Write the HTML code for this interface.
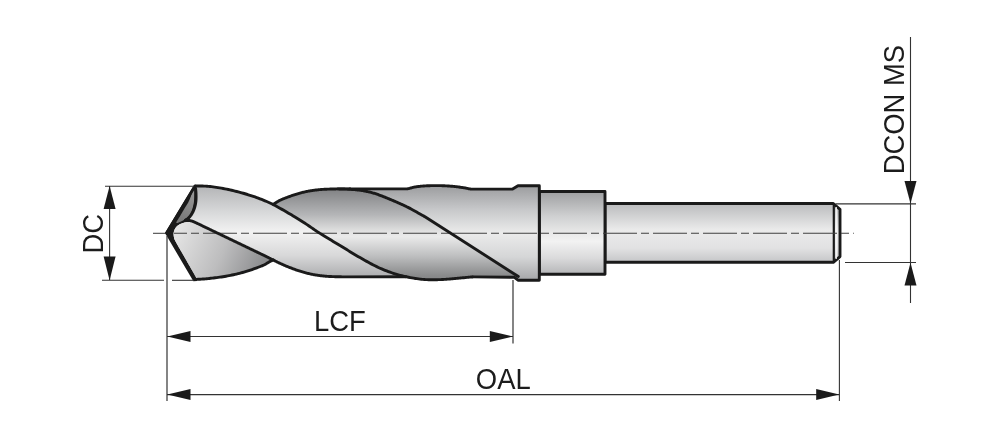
<!DOCTYPE html>
<html><head><meta charset="utf-8">
<style>
html,body{margin:0;padding:0;background:#fff;}
body{width:1000px;height:438px;overflow:hidden;}
svg{display:block;will-change:transform;}
text{font-family:"Liberation Sans",sans-serif;fill:#1c1c1c;}
</style></head>
<body>
<svg width="1000" height="438" viewBox="0 0 1000 438">
<defs>
<clipPath id="cs"><path d="M166.60,232.90 L195.00,186.00 L195.71,186.01 L196.57,186.02 L197.58,186.02 L198.70,186.02 L199.93,186.03 L201.25,186.04 L202.64,186.06 L204.07,186.10 L205.55,186.16 L207.04,186.24 L208.53,186.36 L210.00,186.50 L211.49,186.68 L213.04,186.88 L214.65,187.10 L216.30,187.34 L217.98,187.61 L219.69,187.89 L221.41,188.19 L223.15,188.51 L224.88,188.84 L226.61,189.18 L228.32,189.54 L230.00,189.90 L231.67,190.27 L233.33,190.66 L235.00,191.06 L236.67,191.47 L238.33,191.89 L240.00,192.33 L241.67,192.79 L243.33,193.26 L245.00,193.74 L246.67,194.24 L248.33,194.76 L250.00,195.30 L251.67,195.85 L253.33,196.41 L255.00,196.99 L256.67,197.57 L258.33,198.18 L260.00,198.80 L261.67,199.44 L263.33,200.10 L265.00,200.79 L266.67,201.50 L268.33,202.24 L270.00,203.00 L271.68,203.81 L273.39,204.66 L273.40,204.30 L273.71,204.11 L274.08,203.86 L274.51,203.58 L274.99,203.26 L275.51,202.92 L276.08,202.55 L276.67,202.17 L277.30,201.78 L277.96,201.39 L278.63,201.01 L279.31,200.65 L280.00,200.30 L280.71,199.96 L281.47,199.62 L282.26,199.28 L283.08,198.94 L283.93,198.59 L284.79,198.25 L285.66,197.91 L286.54,197.57 L287.42,197.24 L288.29,196.92 L289.16,196.61 L290.00,196.30 L290.83,196.00 L291.67,195.71 L292.50,195.42 L293.33,195.14 L294.17,194.86 L295.00,194.59 L295.83,194.32 L296.67,194.06 L297.50,193.81 L298.33,193.57 L299.17,193.33 L300.00,193.10 L300.83,192.88 L301.67,192.67 L302.50,192.46 L303.33,192.26 L304.17,192.07 L305.00,191.88 L305.83,191.70 L306.67,191.53 L307.50,191.36 L308.33,191.20 L309.17,191.05 L310.00,190.90 L310.83,190.76 L311.67,190.62 L312.50,190.49 L313.33,190.37 L314.17,190.26 L315.00,190.15 L315.83,190.04 L316.67,189.94 L317.50,189.85 L318.33,189.76 L319.17,189.68 L320.00,189.60 L320.83,189.53 L321.67,189.46 L322.50,189.40 L323.33,189.35 L324.17,189.30 L325.00,189.25 L325.83,189.21 L326.67,189.18 L327.50,189.14 L328.33,189.11 L329.17,189.08 L330.00,189.05 L330.83,189.02 L331.67,189.00 L332.50,188.98 L333.33,188.96 L334.17,188.95 L335.00,188.94 L335.83,188.93 L336.67,188.92 L337.50,188.92 L338.33,188.91 L339.17,188.91 L340.00,188.90 L340.87,188.89 L341.78,188.89 L342.73,188.89 L343.70,188.89 L344.67,188.89 L345.62,188.89 L346.54,188.89 L347.41,188.89 L348.20,188.90 L348.91,188.90 L349.52,188.90 L350.00,188.90 L407.00,188.90 L407.63,188.81 L408.25,188.68 L408.88,188.54 L409.52,188.38 L410.16,188.20 L410.81,188.02 L411.47,187.83 L412.15,187.64 L412.84,187.46 L413.54,187.29 L414.26,187.14 L415.00,187.00 L415.76,186.88 L416.53,186.76 L417.31,186.65 L418.11,186.54 L418.92,186.44 L419.75,186.35 L420.59,186.26 L421.44,186.18 L422.31,186.10 L423.19,186.03 L424.09,185.96 L425.00,185.90 L425.93,185.84 L426.87,185.79 L427.84,185.75 L428.81,185.71 L429.81,185.68 L430.81,185.65 L431.83,185.63 L432.85,185.61 L433.88,185.60 L434.92,185.59 L435.96,185.59 L437.00,185.60 L438.05,185.61 L439.11,185.63 L440.18,185.65 L441.26,185.67 L442.35,185.70 L443.44,185.74 L444.53,185.78 L445.63,185.83 L446.73,185.89 L447.82,185.95 L448.91,186.02 L450.00,186.10 L451.10,186.19 L452.22,186.29 L453.36,186.40 L454.50,186.53 L455.65,186.65 L456.79,186.79 L457.91,186.92 L459.01,187.06 L460.07,187.20 L461.10,187.34 L462.08,187.47 L463.00,187.60 L463.86,187.73 L464.66,187.87 L465.42,188.01 L466.13,188.16 L466.82,188.30 L467.48,188.44 L468.12,188.58 L468.76,188.71 L469.39,188.83 L470.04,188.94 L470.71,189.03 L471.40,189.10 L512.60,189.10 L518.00,185.70 L539.30,185.70 L539.30,280.20 L518.00,280.20 L514.50,277.30 L473.00,276.90 L472.39,276.93 L471.81,276.97 L471.23,277.01 L470.67,277.06 L470.09,277.11 L469.50,277.16 L468.88,277.22 L468.22,277.29 L467.52,277.36 L466.75,277.43 L465.91,277.51 L465.00,277.60 L463.99,277.69 L462.89,277.80 L461.72,277.92 L460.48,278.04 L459.20,278.17 L457.88,278.30 L456.53,278.43 L455.19,278.56 L453.84,278.68 L452.52,278.80 L451.24,278.91 L450.00,279.00 L448.80,279.09 L447.63,279.17 L446.48,279.25 L445.33,279.33 L444.20,279.41 L443.06,279.48 L441.92,279.54 L440.78,279.59 L439.62,279.63 L438.44,279.67 L437.23,279.69 L436.00,279.70 L434.75,279.71 L433.50,279.71 L432.23,279.72 L430.96,279.71 L429.68,279.70 L428.38,279.68 L427.05,279.64 L425.70,279.59 L424.33,279.51 L422.92,279.40 L421.48,279.27 L420.00,279.10 L418.47,278.91 L416.90,278.69 L415.28,278.45 L413.63,278.19 L411.95,277.91 L410.25,277.61 L408.54,277.28 L406.81,276.93 L405.09,276.56 L400.00,276.80 L345.00,276.90 L344.26,276.88 L343.31,276.86 L342.19,276.84 L340.93,276.81 L339.56,276.79 L338.12,276.76 L336.66,276.72 L335.19,276.69 L333.75,276.64 L332.38,276.60 L331.12,276.55 L330.00,276.50 L328.99,276.45 L328.04,276.39 L327.15,276.33 L326.30,276.27 L325.48,276.20 L324.69,276.13 L323.91,276.06 L323.15,275.98 L322.38,275.89 L321.61,275.80 L320.82,275.70 L320.00,275.60 L319.17,275.49 L318.33,275.37 L317.50,275.25 L316.67,275.13 L315.83,275.00 L315.00,274.86 L314.17,274.72 L313.33,274.57 L312.50,274.41 L311.67,274.25 L310.83,274.08 L310.00,273.90 L309.17,273.71 L308.33,273.52 L307.50,273.32 L306.67,273.11 L305.83,272.89 L305.00,272.67 L304.17,272.44 L303.33,272.20 L302.50,271.96 L301.67,271.71 L300.83,271.46 L300.00,271.20 L299.16,270.93 L298.32,270.65 L297.48,270.37 L296.63,270.07 L295.78,269.77 L294.94,269.47 L294.10,269.16 L293.26,268.85 L292.43,268.54 L291.61,268.22 L290.80,267.91 L290.00,267.60 L289.21,267.29 L288.43,266.98 L287.66,266.67 L286.89,266.35 L286.13,266.04 L285.38,265.72 L284.63,265.40 L283.89,265.08 L283.16,264.76 L282.43,264.44 L281.71,264.12 L281.00,263.80 L280.30,263.48 L279.61,263.16 L278.93,262.83 L278.26,262.51 L277.60,262.19 L276.94,261.86 L276.28,261.54 L275.63,261.21 L274.98,260.88 L274.32,260.56 L273.66,260.23 L273.30,259.99 L273.07,260.10 L272.80,260.21 L272.49,260.35 L272.16,260.50 L271.80,260.66 L271.41,260.83 L271.01,261.02 L270.58,261.22 L270.13,261.43 L269.67,261.66 L269.20,261.90 L268.74,262.15 L268.29,262.41 L267.86,262.69 L267.41,262.97 L266.95,263.27 L266.46,263.58 L265.91,263.91 L265.31,264.25 L264.63,264.61 L263.86,264.99 L262.99,265.38 L262.00,265.80 L260.88,266.25 L259.62,266.74 L258.26,267.26 L256.80,267.80 L255.27,268.37 L253.68,268.94 L252.05,269.51 L250.40,270.07 L248.75,270.62 L247.13,271.15 L245.53,271.64 L244.00,272.10 L242.50,272.52 L241.00,272.93 L239.50,273.32 L238.00,273.69 L236.50,274.05 L235.00,274.39 L233.50,274.72 L232.00,275.04 L230.50,275.35 L229.00,275.64 L227.50,275.92 L226.00,276.20 L224.49,276.46 L222.95,276.72 L221.39,276.95 L219.83,277.18 L218.27,277.40 L216.71,277.60 L215.17,277.79 L213.66,277.97 L212.18,278.15 L210.73,278.31 L209.34,278.46 L208.00,278.60 L206.68,278.73 L205.35,278.85 L204.01,278.95 L202.70,279.04 L201.41,279.13 L200.18,279.20 L199.00,279.26 L197.90,279.32 L196.90,279.37 L196.00,279.42 L195.23,279.46 L194.60,279.50 L194.60,279.60 Z"/></clipPath>
<linearGradient id="gR5" gradientUnits="userSpaceOnUse" x1="0" y1="185" x2="0" y2="281">
<stop offset="0" stop-color="#9a9b9d"/>
<stop offset="0.25" stop-color="#c6c7c9"/>
<stop offset="0.5" stop-color="#ebebeb"/>
<stop offset="0.75" stop-color="#d5d6d7"/>
<stop offset="1" stop-color="#a4a5a7"/>
</linearGradient>
<linearGradient id="gR4" gradientUnits="userSpaceOnUse" x1="0" y1="187" x2="0" y2="279">
<stop offset="0" stop-color="#7d7e80"/>
<stop offset="0.3" stop-color="#b4b5b7"/>
<stop offset="0.5" stop-color="#e5e5e5"/>
<stop offset="0.54" stop-color="#eaeaea"/>
<stop offset="0.75" stop-color="#bebfc0"/>
<stop offset="0.86" stop-color="#a2a3a4"/>
<stop offset="0.96" stop-color="#8a8b8c"/>
<stop offset="1" stop-color="#858687"/>
</linearGradient>
<linearGradient id="gR2" gradientUnits="userSpaceOnUse" x1="0" y1="185" x2="0" y2="279">
<stop offset="0" stop-color="#b2b3b5"/>
<stop offset="0.3" stop-color="#d9dadb"/>
<stop offset="0.5" stop-color="#f2f2f2"/>
<stop offset="0.75" stop-color="#d8d8d9"/>
<stop offset="1" stop-color="#a8a9ab"/>
</linearGradient>
<linearGradient id="gR3" gradientUnits="userSpaceOnUse" x1="180" y1="229" x2="268" y2="270">
<stop offset="0" stop-color="#e2e2e2"/>
<stop offset="0.5" stop-color="#bdbdbe"/>
<stop offset="1" stop-color="#858688"/>
</linearGradient>
<linearGradient id="gR1" gradientUnits="userSpaceOnUse" x1="178" y1="222" x2="195" y2="188">
<stop offset="0" stop-color="#767676"/>
<stop offset="1" stop-color="#9c9c9c"/>
</linearGradient>
<linearGradient id="gNeck" gradientUnits="userSpaceOnUse" x1="0" y1="191" x2="0" y2="275">
<stop offset="0" stop-color="#9d9ea0"/>
<stop offset="0.3" stop-color="#cfd0d1"/>
<stop offset="0.5" stop-color="#e9e9e9"/>
<stop offset="0.6" stop-color="#f2f2f2"/>
<stop offset="0.8" stop-color="#dadadb"/>
<stop offset="1" stop-color="#b3b4b6"/>
</linearGradient>
<linearGradient id="gShank" gradientUnits="userSpaceOnUse" x1="0" y1="203" x2="0" y2="263">
<stop offset="0" stop-color="#b9babc"/>
<stop offset="0.45" stop-color="#ebebeb"/>
<stop offset="0.75" stop-color="#e2e2e3"/>
<stop offset="1" stop-color="#c3c4c6"/>
</linearGradient>
</defs>

<!-- shank -->
<path d="M605,203.5 L833.3,203.5 L840,209.3 L840,256.6 L833.3,262.3 L605,262.3 Z" fill="url(#gShank)" stroke="#1a1a1a" stroke-width="2.9" stroke-linejoin="round"/>
<line x1="833.8" y1="204" x2="833.8" y2="262" stroke="#1a1a1a" stroke-width="2.2"/>
<line x1="836.3" y1="207" x2="836.3" y2="259" stroke="#fafafa" stroke-width="1"/>
<!-- neck -->
<rect x="539.3" y="191.5" width="65.7" height="82.8" fill="url(#gNeck)" stroke="#1a1a1a" stroke-width="2.9" stroke-linejoin="round"/>

<!-- body -->
<g clip-path="url(#cs)">
<rect x="150" y="180" width="400" height="110" fill="url(#gR5)"/>
<path d="M338.00,188.90 L338.58,188.92 L339.32,188.94 L340.18,188.96 L341.15,188.98 L342.20,189.00 L343.31,189.03 L344.46,189.06 L345.63,189.10 L346.79,189.14 L347.92,189.19 L349.00,189.24 L350.00,189.30 L350.95,189.36 L351.90,189.43 L352.84,189.50 L353.78,189.58 L354.70,189.66 L355.62,189.75 L356.54,189.84 L357.44,189.94 L358.34,190.05 L359.24,190.16 L360.12,190.27 L361.00,190.40 L361.87,190.53 L362.74,190.67 L363.59,190.82 L364.44,190.97 L365.29,191.12 L366.12,191.29 L366.95,191.46 L367.78,191.63 L368.59,191.82 L369.40,192.00 L370.20,192.20 L371.00,192.40 L371.78,192.61 L372.55,192.82 L373.30,193.04 L374.04,193.26 L374.77,193.49 L375.50,193.72 L376.23,193.97 L376.96,194.22 L377.70,194.48 L378.45,194.74 L379.22,195.02 L380.00,195.30 L380.80,195.59 L381.61,195.90 L382.43,196.22 L383.26,196.54 L384.10,196.87 L384.94,197.21 L385.78,197.56 L386.63,197.90 L387.48,198.25 L388.32,198.60 L389.16,198.95 L390.00,199.30 L390.83,199.65 L391.67,199.99 L392.50,200.34 L393.33,200.69 L394.17,201.05 L395.00,201.40 L395.83,201.76 L396.67,202.12 L397.50,202.48 L398.33,202.85 L399.17,203.22 L400.00,203.60 L400.82,203.97 L401.61,204.33 L402.38,204.68 L403.15,205.03 L403.91,205.38 L404.69,205.74 L405.48,206.12 L406.30,206.51 L407.15,206.94 L408.04,207.39 L408.99,207.87 L410.00,208.40 L411.12,209.00 L412.38,209.69 L413.75,210.44 L415.19,211.24 L416.66,212.07 L418.12,212.90 L419.56,213.71 L420.93,214.49 L422.19,215.21 L423.31,215.84 L424.26,216.38 L425.00,216.80 L518.30,276.50 L520.00,300.00 L100.00,300.00 L100.00,150.00 L343.00,150.00 Z" fill="url(#gR4)"/>
<path d="M195.00,186.00 L195.71,186.01 L196.57,186.02 L197.58,186.02 L198.70,186.02 L199.93,186.03 L201.25,186.04 L202.64,186.06 L204.07,186.10 L205.55,186.16 L207.04,186.24 L208.53,186.36 L210.00,186.50 L211.49,186.68 L213.04,186.88 L214.65,187.10 L216.30,187.34 L217.98,187.61 L219.69,187.89 L221.41,188.19 L223.15,188.51 L224.88,188.84 L226.61,189.18 L228.32,189.54 L230.00,189.90 L231.67,190.27 L233.33,190.66 L235.00,191.06 L236.67,191.47 L238.33,191.89 L240.00,192.33 L241.67,192.79 L243.33,193.26 L245.00,193.74 L246.67,194.24 L248.33,194.76 L250.00,195.30 L251.67,195.85 L253.33,196.41 L255.00,196.99 L256.67,197.57 L258.33,198.18 L260.00,198.80 L261.67,199.44 L263.33,200.10 L265.00,200.79 L266.67,201.50 L268.33,202.24 L270.00,203.00 L271.68,203.81 L273.39,204.66 L275.12,205.56 L276.85,206.49 L278.59,207.44 L280.31,208.40 L282.02,209.37 L283.70,210.34 L285.35,211.29 L286.96,212.23 L288.51,213.13 L290.00,214.00 L291.43,214.83 L292.79,215.64 L294.10,216.43 L295.37,217.20 L296.60,217.96 L297.81,218.71 L299.00,219.45 L300.19,220.20 L301.37,220.96 L302.56,221.72 L303.77,222.50 L305.00,223.30 L306.23,224.11 L307.44,224.91 L308.63,225.72 L309.81,226.53 L311.00,227.35 L312.19,228.18 L313.40,229.01 L314.63,229.86 L315.90,230.72 L317.21,231.59 L318.57,232.49 L320.00,233.40 L321.49,234.34 L323.04,235.30 L324.65,236.28 L326.30,237.29 L327.98,238.30 L329.69,239.32 L331.41,240.36 L333.15,241.39 L334.88,242.43 L336.61,243.46 L338.32,244.49 L340.00,245.50 L341.67,246.51 L343.33,247.53 L345.00,248.56 L346.67,249.59 L348.33,250.62 L350.00,251.64 L351.67,252.66 L353.33,253.68 L355.00,254.68 L356.67,255.67 L358.33,256.64 L360.00,257.60 L361.67,258.55 L363.33,259.49 L365.00,260.44 L366.67,261.37 L368.33,262.30 L370.00,263.21 L371.67,264.11 L373.33,264.98 L375.00,265.83 L376.67,266.65 L378.33,267.44 L380.00,268.20 L381.67,268.92 L383.33,269.62 L385.00,270.30 L386.67,270.95 L388.33,271.57 L390.00,272.18 L391.67,272.75 L393.33,273.31 L395.00,273.84 L396.67,274.35 L398.33,274.84 L400.00,275.30 L401.68,275.74 L403.38,276.16 L405.09,276.56 L406.81,276.93 L408.54,277.28 L410.25,277.61 L411.95,277.91 L413.63,278.19 L415.28,278.45 L416.90,278.69 L418.47,278.91 L420.00,279.10 L421.48,279.27 L422.92,279.40 L424.33,279.51 L425.70,279.59 L427.05,279.64 L428.38,279.68 L429.68,279.70 L430.96,279.71 L432.23,279.72 L433.50,279.71 L434.75,279.71 L436.00,279.70 L437.23,279.69 L438.44,279.67 L439.62,279.63 L440.78,279.59 L441.92,279.54 L443.06,279.48 L444.20,279.41 L445.33,279.33 L446.48,279.25 L447.63,279.17 L448.80,279.09 L450.00,279.00 L451.24,278.91 L452.52,278.80 L453.84,278.68 L455.19,278.56 L456.53,278.43 L457.88,278.30 L459.20,278.17 L460.48,278.04 L461.72,277.92 L462.89,277.80 L463.99,277.69 L465.00,277.60 L465.91,277.51 L466.75,277.43 L467.52,277.36 L468.22,277.29 L468.88,277.22 L469.50,277.16 L470.09,277.11 L470.67,277.06 L471.23,277.01 L471.81,276.97 L472.39,276.93 L473.00,276.90 L473.64,276.88 L474.31,276.86 L474.98,276.85 L475.67,276.85 L476.34,276.85 L477.00,276.86 L477.63,276.86 L478.22,276.87 L478.77,276.88 L479.25,276.89 L479.66,276.90 L480.00,276.90 L520.00,276.90 L520.00,300.00 L100.00,300.00 L100.00,186.00 L195.00,186.00 Z" fill="url(#gR2)"/>
</g>
<path d="M194.20,184.90 L165.00,233.10 L193.40,281.20 L197.00,281.00 L197.00,279.00 L196.50,278.20 L196.34,277.91 L196.15,277.58 L195.93,277.19 L195.69,276.75 L195.42,276.27 L195.12,275.76 L194.81,275.20 L194.48,274.61 L194.13,274.00 L193.77,273.35 L193.39,272.69 L193.00,272.00 L192.59,271.28 L192.14,270.50 L191.68,269.68 L191.19,268.82 L190.68,267.93 L190.16,267.02 L189.63,266.09 L189.09,265.16 L188.56,264.23 L188.03,263.30 L187.51,262.39 L187.00,261.50 L186.50,260.62 L186.00,259.74 L185.49,258.86 L184.99,257.98 L184.48,257.10 L183.98,256.22 L183.48,255.34 L182.98,254.46 L182.48,253.59 L181.98,252.72 L181.49,251.86 L181.00,251.00 L180.50,250.13 L179.98,249.23 L179.45,248.31 L178.91,247.39 L178.38,246.47 L177.86,245.56 L177.35,244.68 L176.86,243.83 L176.41,243.03 L175.99,242.28 L175.62,241.60 L175.30,241.00 L175.03,240.48 L174.82,240.05 L174.64,239.68 L174.51,239.37 L174.40,239.11 L174.32,238.88 L174.26,238.67 L174.20,238.47 L174.16,238.26 L174.11,238.04 L174.06,237.79 L174.00,237.50 L173.93,237.18 L173.87,236.85 L173.80,236.51 L173.75,236.17 L173.70,235.82 L173.66,235.47 L173.62,235.12 L173.60,234.77 L173.58,234.42 L173.58,234.07 L173.58,233.73 L173.60,233.40 L173.63,233.07 L173.67,232.74 L173.73,232.41 L173.79,232.08 L173.87,231.75 L173.95,231.43 L174.04,231.11 L174.14,230.80 L174.25,230.49 L174.36,230.18 L174.48,229.89 L174.60,229.60 L174.73,229.32 L174.87,229.04 L175.02,228.77 L175.17,228.50 L175.33,228.24 L175.50,227.99 L175.67,227.74 L175.85,227.50 L176.03,227.26 L176.22,227.03 L176.41,226.81 L176.60,226.60 L176.79,226.40 L176.99,226.20 L177.19,226.02 L177.40,225.84 L177.61,225.67 L177.82,225.50 L178.04,225.34 L178.26,225.19 L178.49,225.03 L178.72,224.89 L178.96,224.74 L179.20,224.60 L179.45,224.46 L179.71,224.33 L179.97,224.20 L180.24,224.07 L180.52,223.95 L180.79,223.84 L181.08,223.72 L181.36,223.61 L181.64,223.51 L181.93,223.40 L182.22,223.30 L182.50,223.20 L182.79,223.10 L183.08,223.00 L183.37,222.90 L183.67,222.81 L183.97,222.71 L184.27,222.62 L184.57,222.54 L184.86,222.46 L185.16,222.38 L185.44,222.32 L185.73,222.25 L186.00,222.20 L186.26,222.15 L186.52,222.11 L186.76,222.07 L187.00,222.04 L187.23,222.02 L187.47,222.00 L187.70,221.99 L187.94,221.98 L188.19,221.98 L188.45,221.98 L188.72,221.99 L189.00,222.00 L189.30,222.02 L189.60,222.04 L189.92,222.07 L190.24,222.10 L190.57,222.14 L190.91,222.19 L191.25,222.24 L191.59,222.30 L191.94,222.36 L192.29,222.43 L192.65,222.51 L193.00,222.60 L193.37,222.70 L193.77,222.83 L194.20,222.97 L194.63,223.12 L195.07,223.28 L195.50,223.44 L195.92,223.60 L196.31,223.75 L196.68,223.89 L197.00,224.01 L197.28,224.12 L197.50,224.20 L185.50,220.30 L185.67,220.17 L185.89,220.02 L186.14,219.85 L186.43,219.65 L186.74,219.43 L187.06,219.20 L187.40,218.95 L187.74,218.70 L188.08,218.43 L188.41,218.16 L188.71,217.88 L189.00,217.60 L189.27,217.32 L189.54,217.02 L189.80,216.72 L190.06,216.41 L190.32,216.09 L190.57,215.76 L190.82,215.42 L191.06,215.08 L191.30,214.72 L191.54,214.36 L191.77,213.98 L192.00,213.60 L192.22,213.21 L192.45,212.81 L192.66,212.41 L192.88,211.99 L193.09,211.57 L193.29,211.14 L193.49,210.69 L193.69,210.24 L193.88,209.78 L194.06,209.30 L194.23,208.81 L194.40,208.30 L194.56,207.78 L194.72,207.25 L194.87,206.70 L195.02,206.14 L195.16,205.57 L195.29,204.99 L195.42,204.39 L195.54,203.79 L195.64,203.18 L195.74,202.56 L195.83,201.93 L195.90,201.30 L195.96,200.65 L196.01,199.97 L196.04,199.28 L196.07,198.57 L196.08,197.85 L196.09,197.13 L196.09,196.41 L196.08,195.70 L196.06,194.99 L196.05,194.31 L196.02,193.64 L196.00,193.00 L195.97,192.36 L195.92,191.71 L195.86,191.06 L195.80,190.40 L195.73,189.76 L195.66,189.13 L195.58,188.54 L195.51,187.98 L195.44,187.47 L195.39,187.01 L195.34,186.62 L195.30,186.30 Z" fill="#1a1a1a"/>
<path d="M197.50,224.20 L197.28,224.12 L197.00,224.01 L196.68,223.89 L196.31,223.75 L195.92,223.60 L195.50,223.44 L195.07,223.28 L194.63,223.12 L194.20,222.97 L193.77,222.83 L193.37,222.70 L193.00,222.60 L192.65,222.51 L192.29,222.43 L191.94,222.36 L191.59,222.30 L191.25,222.24 L190.91,222.19 L190.57,222.14 L190.24,222.10 L189.92,222.07 L189.60,222.04 L189.30,222.02 L189.00,222.00 L188.72,221.99 L188.45,221.98 L188.19,221.98 L187.94,221.98 L187.70,221.99 L187.47,222.00 L187.23,222.02 L187.00,222.04 L186.76,222.07 L186.52,222.11 L186.26,222.15 L186.00,222.20 L185.73,222.25 L185.44,222.32 L185.16,222.38 L184.86,222.46 L184.57,222.54 L184.27,222.62 L183.97,222.71 L183.67,222.81 L183.37,222.90 L183.08,223.00 L182.79,223.10 L182.50,223.20 L182.22,223.30 L181.93,223.40 L181.64,223.51 L181.36,223.61 L181.08,223.72 L180.79,223.84 L180.52,223.95 L180.24,224.07 L179.97,224.20 L179.71,224.33 L179.45,224.46 L179.20,224.60 L178.96,224.74 L178.72,224.89 L178.49,225.03 L178.26,225.19 L178.04,225.34 L177.82,225.50 L177.61,225.67 L177.40,225.84 L177.19,226.02 L176.99,226.20 L176.79,226.40 L176.60,226.60 L176.41,226.81 L176.22,227.03 L176.03,227.26 L175.85,227.50 L175.67,227.74 L175.50,227.99 L175.33,228.24 L175.17,228.50 L175.02,228.77 L174.87,229.04 L174.73,229.32 L174.60,229.60 L174.48,229.89 L174.36,230.18 L174.25,230.49 L174.14,230.80 L174.04,231.11 L173.95,231.43 L173.87,231.75 L173.79,232.08 L173.73,232.41 L173.67,232.74 L173.63,233.07 L173.60,233.40 L173.58,233.73 L173.58,234.07 L173.58,234.42 L173.60,234.77 L173.62,235.12 L173.66,235.47 L173.70,235.82 L173.75,236.17 L173.80,236.51 L173.87,236.85 L173.93,237.18 L174.00,237.50 L174.06,237.79 L174.11,238.04 L174.16,238.26 L174.20,238.47 L174.26,238.67 L174.32,238.88 L174.40,239.11 L174.51,239.37 L174.64,239.68 L174.82,240.05 L175.03,240.48 L175.30,241.00 L175.62,241.60 L175.99,242.28 L176.41,243.03 L176.86,243.83 L177.35,244.68 L177.86,245.56 L178.38,246.47 L178.91,247.39 L179.45,248.31 L179.98,249.23 L180.50,250.13 L181.00,251.00 L181.49,251.86 L181.98,252.72 L182.48,253.59 L182.98,254.46 L183.48,255.34 L183.98,256.22 L184.48,257.10 L184.99,257.98 L185.49,258.86 L186.00,259.74 L186.50,260.62 L187.00,261.50 L187.51,262.39 L188.03,263.30 L188.56,264.23 L189.09,265.16 L189.63,266.09 L190.16,267.02 L190.68,267.93 L191.19,268.82 L191.68,269.68 L192.14,270.50 L192.59,271.28 L193.00,272.00 L193.39,272.69 L193.77,273.35 L194.13,274.00 L194.48,274.61 L194.81,275.20 L195.12,275.76 L195.42,276.27 L195.69,276.75 L195.93,277.19 L196.15,277.58 L196.34,277.91 L196.50,278.20 L195.23,279.46 L196.00,279.42 L196.90,279.37 L197.90,279.32 L199.00,279.26 L200.18,279.20 L201.41,279.13 L202.70,279.04 L204.01,278.95 L205.35,278.85 L206.68,278.73 L208.00,278.60 L209.34,278.46 L210.73,278.31 L212.18,278.15 L213.66,277.97 L215.17,277.79 L216.71,277.60 L218.27,277.40 L219.83,277.18 L221.39,276.95 L222.95,276.72 L224.49,276.46 L226.00,276.20 L227.50,275.92 L229.00,275.64 L230.50,275.35 L232.00,275.04 L233.50,274.72 L235.00,274.39 L236.50,274.05 L238.00,273.69 L239.50,273.32 L241.00,272.93 L242.50,272.52 L244.00,272.10 L245.53,271.64 L247.13,271.15 L248.75,270.62 L250.40,270.07 L252.05,269.51 L253.68,268.94 L255.27,268.37 L256.80,267.80 L258.26,267.26 L259.62,266.74 L260.88,266.25 L262.00,265.80 L262.99,265.38 L263.86,264.99 L264.63,264.61 L265.31,264.25 L265.91,263.91 L266.46,263.58 L266.95,263.27 L267.41,262.97 L267.86,262.69 L268.29,262.41 L268.74,262.15 L269.20,261.90 L269.67,261.66 L270.13,261.43 L270.58,261.22 L271.01,261.02 L271.41,260.83 L271.80,260.66 L272.16,260.50 L272.49,260.35 L272.80,260.21 L273.07,260.10 L273.30,259.99 L273.50,259.90 L273.00,259.90 L272.34,259.57 L271.69,259.25 L271.05,258.93 L270.41,258.60 L269.77,258.28 L269.12,257.96 L268.48,257.63 L267.81,257.30 L267.14,256.96 L266.45,256.61 L265.74,256.26 L265.00,255.90 L264.24,255.53 L263.45,255.15 L262.64,254.76 L261.81,254.36 L260.98,253.96 L260.12,253.55 L259.27,253.14 L258.41,252.73 L257.55,252.32 L256.69,251.91 L255.84,251.50 L255.00,251.10 L254.17,250.70 L253.33,250.30 L252.50,249.90 L251.67,249.50 L250.83,249.10 L250.00,248.70 L249.17,248.30 L248.33,247.90 L247.50,247.50 L246.67,247.10 L245.83,246.70 L245.00,246.30 L244.17,245.90 L243.33,245.50 L242.50,245.10 L241.67,244.70 L240.83,244.30 L240.00,243.90 L239.17,243.50 L238.33,243.10 L237.50,242.70 L236.67,242.30 L235.83,241.90 L235.00,241.50 L234.17,241.10 L233.33,240.70 L232.50,240.30 L231.67,239.90 L230.83,239.50 L230.00,239.10 L229.17,238.70 L228.33,238.30 L227.50,237.90 L226.67,237.50 L225.83,237.10 L225.00,236.70 L224.17,236.30 L223.33,235.90 L222.50,235.50 L221.67,235.10 L220.83,234.70 L220.00,234.30 L219.17,233.90 L218.33,233.50 L217.50,233.10 L216.67,232.70 L215.83,232.30 L215.00,231.90 L214.16,231.50 L213.32,231.09 L212.48,230.69 L211.63,230.28 L210.78,229.87 L209.94,229.47 L209.10,229.06 L208.26,228.66 L207.43,228.26 L206.61,227.87 L205.80,227.48 L205.00,227.10 L204.20,226.72 L203.40,226.33 L202.59,225.94 L201.78,225.54 L200.98,225.16 L200.19,224.78 L199.42,224.40 L198.67,224.04 L197.95,223.70 Z" fill="url(#gR3)"/>
<path d="M193.60,188.50 L193.44,188.95 L193.24,189.53 L193.00,190.23 L192.71,191.05 L192.38,191.98 L192.00,193.00 L191.58,194.17 L191.10,195.51 L190.59,196.95 L190.03,198.44 L189.43,199.91 L188.80,201.30 L188.11,202.63 L187.34,203.96 L186.54,205.26 L185.73,206.54 L184.94,207.79 L184.20,209.00 L183.51,210.18 L182.84,211.33 L182.19,212.45 L181.56,213.53 L180.97,214.55 L180.40,215.50 L179.86,216.39 L179.34,217.23 L178.84,218.01 L178.39,218.73 L177.97,219.39 L177.60,220.00 L177.27,220.54 L176.97,221.02 L176.71,221.44 L176.51,221.81 L176.37,222.13 L176.30,222.40 L176.31,222.63 L176.38,222.80 L176.52,222.93 L176.72,223.00 L176.98,223.03 L177.30,223.00 L177.69,222.92 L178.16,222.78 L178.69,222.59 L179.27,222.36 L179.88,222.10 L180.50,221.80 L181.16,221.46 L181.88,221.08 L182.63,220.66 L183.39,220.22 L184.12,219.76 L184.80,219.30 L185.44,218.84 L186.06,218.37 L186.66,217.88 L187.23,217.38 L187.78,216.85 L188.30,216.30 L188.79,215.73 L189.26,215.14 L189.70,214.52 L190.12,213.89 L190.52,213.21 L190.90,212.50 L191.27,211.75 L191.61,210.97 L191.94,210.15 L192.24,209.30 L192.53,208.42 L192.80,207.50 L193.05,206.56 L193.29,205.60 L193.50,204.61 L193.69,203.57 L193.86,202.47 L194.00,201.30 L194.11,199.99 L194.19,198.55 L194.24,197.04 L194.27,195.56 L194.29,194.19 L194.30,193.00 L194.29,191.98 L194.26,191.05 L194.22,190.23 L194.17,189.53 L194.13,188.95 L194.10,188.50 Z" fill="url(#gR1)"/>

<!-- centerline -->
<line x1="153" y1="233.3" x2="165" y2="233.3" stroke="#404040" stroke-width="1.05"/>
<line x1="174" y1="233.3" x2="853.8" y2="233.3" stroke="#404040" stroke-width="1.05" stroke-dasharray="34 4 8 4" stroke-dashoffset="21"/>

<!-- outlines -->
<g fill="none" stroke="#1a1a1a" stroke-width="2.9" stroke-linejoin="round" stroke-linecap="round">
<path d="M166.60,232.90 L195.00,186.00 L195.71,186.01 L196.57,186.02 L197.58,186.02 L198.70,186.02 L199.93,186.03 L201.25,186.04 L202.64,186.06 L204.07,186.10 L205.55,186.16 L207.04,186.24 L208.53,186.36 L210.00,186.50 L211.49,186.68 L213.04,186.88 L214.65,187.10 L216.30,187.34 L217.98,187.61 L219.69,187.89 L221.41,188.19 L223.15,188.51 L224.88,188.84 L226.61,189.18 L228.32,189.54 L230.00,189.90 L231.67,190.27 L233.33,190.66 L235.00,191.06 L236.67,191.47 L238.33,191.89 L240.00,192.33 L241.67,192.79 L243.33,193.26 L245.00,193.74 L246.67,194.24 L248.33,194.76 L250.00,195.30 L251.67,195.85 L253.33,196.41 L255.00,196.99 L256.67,197.57 L258.33,198.18 L260.00,198.80 L261.67,199.44 L263.33,200.10 L265.00,200.79 L266.67,201.50 L268.33,202.24 L270.00,203.00 L271.68,203.81 L273.39,204.66 L275.12,205.56 L276.85,206.49 L278.59,207.44 L280.31,208.40 L282.02,209.37 L283.70,210.34 L285.35,211.29 L286.96,212.23 L288.51,213.13 L290.00,214.00 L291.43,214.83 L292.79,215.64 L294.10,216.43 L295.37,217.20 L296.60,217.96 L297.81,218.71 L299.00,219.45 L300.19,220.20 L301.37,220.96 L302.56,221.72 L303.77,222.50 L305.00,223.30 L306.23,224.11 L307.44,224.91 L308.63,225.72 L309.81,226.53 L311.00,227.35 L312.19,228.18 L313.40,229.01 L314.63,229.86 L315.90,230.72 L317.21,231.59 L318.57,232.49 L320.00,233.40 L321.49,234.34 L323.04,235.30 L324.65,236.28 L326.30,237.29 L327.98,238.30 L329.69,239.32 L331.41,240.36 L333.15,241.39 L334.88,242.43 L336.61,243.46 L338.32,244.49 L340.00,245.50 L341.67,246.51 L343.33,247.53 L345.00,248.56 L346.67,249.59 L348.33,250.62 L350.00,251.64 L351.67,252.66 L353.33,253.68 L355.00,254.68 L356.67,255.67 L358.33,256.64 L360.00,257.60 L361.67,258.55 L363.33,259.49 L365.00,260.44 L366.67,261.37 L368.33,262.30 L370.00,263.21 L371.67,264.11 L373.33,264.98 L375.00,265.83 L376.67,266.65 L378.33,267.44 L380.00,268.20 L381.67,268.92 L383.33,269.62 L385.00,270.30 L386.67,270.95 L388.33,271.57 L390.00,272.18 L391.67,272.75 L393.33,273.31 L395.00,273.84 L396.67,274.35 L398.33,274.84 L400.00,275.30 L401.68,275.74 L403.38,276.16 L405.09,276.56 L406.81,276.93 L408.54,277.28 L410.25,277.61 L411.95,277.91 L413.63,278.19 L415.28,278.45 L416.90,278.69 L418.47,278.91 L420.00,279.10 L421.48,279.27 L422.92,279.40 L424.33,279.51 L425.70,279.59 L427.05,279.64 L428.38,279.68 L429.68,279.70 L430.96,279.71 L432.23,279.72 L433.50,279.71 L434.75,279.71 L436.00,279.70 L437.23,279.69 L438.44,279.67 L439.62,279.63 L440.78,279.59 L441.92,279.54 L443.06,279.48 L444.20,279.41 L445.33,279.33 L446.48,279.25 L447.63,279.17 L448.80,279.09 L450.00,279.00 L451.24,278.91 L452.52,278.80 L453.84,278.68 L455.19,278.56 L456.53,278.43 L457.88,278.30 L459.20,278.17 L460.48,278.04 L461.72,277.92 L462.89,277.80 L463.99,277.69 L465.00,277.60 L465.91,277.51 L466.75,277.43 L467.52,277.36 L468.22,277.29 L468.88,277.22 L469.50,277.16 L470.09,277.11 L470.67,277.06 L471.23,277.01 L471.81,276.97 L472.39,276.93"/>
<path d="M273.40,204.30 L273.71,204.11 L274.08,203.86 L274.51,203.58 L274.99,203.26 L275.51,202.92 L276.08,202.55 L276.67,202.17 L277.30,201.78 L277.96,201.39 L278.63,201.01 L279.31,200.65 L280.00,200.30 L280.71,199.96 L281.47,199.62 L282.26,199.28 L283.08,198.94 L283.93,198.59 L284.79,198.25 L285.66,197.91 L286.54,197.57 L287.42,197.24 L288.29,196.92 L289.16,196.61 L290.00,196.30 L290.83,196.00 L291.67,195.71 L292.50,195.42 L293.33,195.14 L294.17,194.86 L295.00,194.59 L295.83,194.32 L296.67,194.06 L297.50,193.81 L298.33,193.57 L299.17,193.33 L300.00,193.10 L300.83,192.88 L301.67,192.67 L302.50,192.46 L303.33,192.26 L304.17,192.07 L305.00,191.88 L305.83,191.70 L306.67,191.53 L307.50,191.36 L308.33,191.20 L309.17,191.05 L310.00,190.90 L310.83,190.76 L311.67,190.62 L312.50,190.49 L313.33,190.37 L314.17,190.26 L315.00,190.15 L315.83,190.04 L316.67,189.94 L317.50,189.85 L318.33,189.76 L319.17,189.68 L320.00,189.60 L320.83,189.53 L321.67,189.46 L322.50,189.40 L323.33,189.35 L324.17,189.30 L325.00,189.25 L325.83,189.21 L326.67,189.18 L327.50,189.14 L328.33,189.11 L329.17,189.08 L330.00,189.05 L330.83,189.02 L331.67,189.00 L332.50,188.98 L333.33,188.96 L334.17,188.95 L335.00,188.94 L335.83,188.93 L336.67,188.92 L337.50,188.92 L338.33,188.91 L339.17,188.91 L340.00,188.90 L340.87,188.89 L341.78,188.89 L342.73,188.89 L343.70,188.89 L344.67,188.89 L345.62,188.89 L346.54,188.89 L347.41,188.89 L348.20,188.90 L348.91,188.90 L349.52,188.90 L350.00,188.90"/>
<path d="M350.00,188.90 L407.00,188.90 L407.63,188.81 L408.25,188.68 L408.88,188.54 L409.52,188.38 L410.16,188.20 L410.81,188.02 L411.47,187.83 L412.15,187.64 L412.84,187.46 L413.54,187.29 L414.26,187.14 L415.00,187.00 L415.76,186.88 L416.53,186.76 L417.31,186.65 L418.11,186.54 L418.92,186.44 L419.75,186.35 L420.59,186.26 L421.44,186.18 L422.31,186.10 L423.19,186.03 L424.09,185.96 L425.00,185.90 L425.93,185.84 L426.87,185.79 L427.84,185.75 L428.81,185.71 L429.81,185.68 L430.81,185.65 L431.83,185.63 L432.85,185.61 L433.88,185.60 L434.92,185.59 L435.96,185.59 L437.00,185.60 L438.05,185.61 L439.11,185.63 L440.18,185.65 L441.26,185.67 L442.35,185.70 L443.44,185.74 L444.53,185.78 L445.63,185.83 L446.73,185.89 L447.82,185.95 L448.91,186.02 L450.00,186.10 L451.10,186.19 L452.22,186.29 L453.36,186.40 L454.50,186.53 L455.65,186.65 L456.79,186.79 L457.91,186.92 L459.01,187.06 L460.07,187.20 L461.10,187.34 L462.08,187.47 L463.00,187.60 L463.86,187.73 L464.66,187.87 L465.42,188.01 L466.13,188.16 L466.82,188.30 L467.48,188.44 L468.12,188.58 L468.76,188.71 L469.39,188.83 L470.04,188.94 L470.71,189.03 L471.40,189.10 L512.6,189.1 L518,185.7 L539.3,185.7 L539.3,280.2 L518,280.2 L514.5,277.3 L473,276.9"/>
<path d="M406.00,276.80 L345.00,276.90 L345.00,276.90 L344.26,276.88 L343.31,276.86 L342.19,276.84 L340.93,276.81 L339.56,276.79 L338.12,276.76 L336.66,276.72 L335.19,276.69 L333.75,276.64 L332.38,276.60 L331.12,276.55 L330.00,276.50 L328.99,276.45 L328.04,276.39 L327.15,276.33 L326.30,276.27 L325.48,276.20 L324.69,276.13 L323.91,276.06 L323.15,275.98 L322.38,275.89 L321.61,275.80 L320.82,275.70 L320.00,275.60 L319.17,275.49 L318.33,275.37 L317.50,275.25 L316.67,275.13 L315.83,275.00 L315.00,274.86 L314.17,274.72 L313.33,274.57 L312.50,274.41 L311.67,274.25 L310.83,274.08 L310.00,273.90 L309.17,273.71 L308.33,273.52 L307.50,273.32 L306.67,273.11 L305.83,272.89 L305.00,272.67 L304.17,272.44 L303.33,272.20 L302.50,271.96 L301.67,271.71 L300.83,271.46 L300.00,271.20 L299.16,270.93 L298.32,270.65 L297.48,270.37 L296.63,270.07 L295.78,269.77 L294.94,269.47 L294.10,269.16 L293.26,268.85 L292.43,268.54 L291.61,268.22 L290.80,267.91 L290.00,267.60 L289.21,267.29 L288.43,266.98 L287.66,266.67 L286.89,266.35 L286.13,266.04 L285.38,265.72 L284.63,265.40 L283.89,265.08 L283.16,264.76 L282.43,264.44 L281.71,264.12 L281.00,263.80 L280.30,263.48 L279.61,263.16 L278.93,262.83 L278.26,262.51 L277.60,262.19 L276.94,261.86 L276.28,261.54 L275.63,261.21 L274.98,260.88 L274.32,260.56 L273.66,260.23 L273.00,259.90 L272.34,259.57 L271.69,259.25 L271.05,258.93 L270.41,258.60 L269.77,258.28 L269.12,257.96 L268.48,257.63 L267.81,257.30 L267.14,256.96 L266.45,256.61 L265.74,256.26 L265.00,255.90 L264.24,255.53 L263.45,255.15 L262.64,254.76 L261.81,254.36 L260.98,253.96 L260.12,253.55 L259.27,253.14 L258.41,252.73 L257.55,252.32 L256.69,251.91 L255.84,251.50 L255.00,251.10 L254.17,250.70 L253.33,250.30 L252.50,249.90 L251.67,249.50 L250.83,249.10 L250.00,248.70 L249.17,248.30 L248.33,247.90 L247.50,247.50 L246.67,247.10 L245.83,246.70 L245.00,246.30 L244.17,245.90 L243.33,245.50 L242.50,245.10 L241.67,244.70 L240.83,244.30 L240.00,243.90 L239.17,243.50 L238.33,243.10 L237.50,242.70 L236.67,242.30 L235.83,241.90 L235.00,241.50 L234.17,241.10 L233.33,240.70 L232.50,240.30 L231.67,239.90 L230.83,239.50 L230.00,239.10 L229.17,238.70 L228.33,238.30 L227.50,237.90 L226.67,237.50 L225.83,237.10 L225.00,236.70 L224.17,236.30 L223.33,235.90 L222.50,235.50 L221.67,235.10 L220.83,234.70 L220.00,234.30 L219.17,233.90 L218.33,233.50 L217.50,233.10 L216.67,232.70 L215.83,232.30 L215.00,231.90 L214.16,231.50 L213.32,231.09 L212.48,230.69 L211.63,230.28 L210.78,229.87 L209.94,229.47 L209.10,229.06 L208.26,228.66 L207.43,228.26 L206.61,227.87 L205.80,227.48 L205.00,227.10 L204.20,226.72 L203.40,226.33 L202.59,225.94 L201.78,225.54 L200.98,225.16 L200.19,224.78 L199.42,224.40 L198.67,224.04 L197.95,223.70 L197.26,223.38 L196.61,223.08 L196.00,222.80 L195.44,222.55 L194.94,222.32 L194.48,222.10 L194.06,221.91 L193.66,221.73 L193.28,221.56 L192.92,221.41 L192.56,221.27 L192.19,221.14 L191.82,221.02 L191.42,220.91 L191.00,220.80 L190.54,220.70 L190.05,220.62 L189.53,220.56 L189.00,220.50 L188.47,220.46 L187.94,220.43 L187.43,220.40 L186.94,220.37 L186.50,220.35 L186.10,220.34 L185.77,220.32 L185.50,220.30"/>
<path d="M338.00,188.90 L338.58,188.92 L339.32,188.94 L340.18,188.96 L341.15,188.98 L342.20,189.00 L343.31,189.03 L344.46,189.06 L345.63,189.10 L346.79,189.14 L347.92,189.19 L349.00,189.24 L350.00,189.30 L350.95,189.36 L351.90,189.43 L352.84,189.50 L353.78,189.58 L354.70,189.66 L355.62,189.75 L356.54,189.84 L357.44,189.94 L358.34,190.05 L359.24,190.16 L360.12,190.27 L361.00,190.40 L361.87,190.53 L362.74,190.67 L363.59,190.82 L364.44,190.97 L365.29,191.12 L366.12,191.29 L366.95,191.46 L367.78,191.63 L368.59,191.82 L369.40,192.00 L370.20,192.20 L371.00,192.40 L371.78,192.61 L372.55,192.82 L373.30,193.04 L374.04,193.26 L374.77,193.49 L375.50,193.72 L376.23,193.97 L376.96,194.22 L377.70,194.48 L378.45,194.74 L379.22,195.02 L380.00,195.30 L380.80,195.59 L381.61,195.90 L382.43,196.22 L383.26,196.54 L384.10,196.87 L384.94,197.21 L385.78,197.56 L386.63,197.90 L387.48,198.25 L388.32,198.60 L389.16,198.95 L390.00,199.30 L390.83,199.65 L391.67,199.99 L392.50,200.34 L393.33,200.69 L394.17,201.05 L395.00,201.40 L395.83,201.76 L396.67,202.12 L397.50,202.48 L398.33,202.85 L399.17,203.22 L400.00,203.60 L400.82,203.97 L401.61,204.33 L402.38,204.68 L403.15,205.03 L403.91,205.38 L404.69,205.74 L405.48,206.12 L406.30,206.51 L407.15,206.94 L408.04,207.39 L408.99,207.87 L410.00,208.40 L411.12,209.00 L412.38,209.69 L413.75,210.44 L415.19,211.24 L416.66,212.07 L418.12,212.90 L419.56,213.71 L420.93,214.49 L422.19,215.21 L423.31,215.84 L424.26,216.38 L425.00,216.80 L518.30,276.50"/>
<path d="M194.60,279.50 L195.23,279.46 L196.00,279.42 L196.90,279.37 L197.90,279.32 L199.00,279.26 L200.18,279.20 L201.41,279.13 L202.70,279.04 L204.01,278.95 L205.35,278.85 L206.68,278.73 L208.00,278.60 L209.34,278.46 L210.73,278.31 L212.18,278.15 L213.66,277.97 L215.17,277.79 L216.71,277.60 L218.27,277.40 L219.83,277.18 L221.39,276.95 L222.95,276.72 L224.49,276.46 L226.00,276.20 L227.50,275.92 L229.00,275.64 L230.50,275.35 L232.00,275.04 L233.50,274.72 L235.00,274.39 L236.50,274.05 L238.00,273.69 L239.50,273.32 L241.00,272.93 L242.50,272.52 L244.00,272.10 L245.53,271.64 L247.13,271.15 L248.75,270.62 L250.40,270.07 L252.05,269.51 L253.68,268.94 L255.27,268.37 L256.80,267.80 L258.26,267.26 L259.62,266.74 L260.88,266.25 L262.00,265.80 L262.99,265.38 L263.86,264.99 L264.63,264.61 L265.31,264.25 L265.91,263.91 L266.46,263.58 L266.95,263.27 L267.41,262.97 L267.86,262.69 L268.29,262.41 L268.74,262.15 L269.20,261.90 L269.67,261.66 L270.13,261.43 L270.58,261.22 L271.01,261.02 L271.41,260.83 L271.80,260.66 L272.16,260.50 L272.49,260.35 L272.80,260.21 L273.07,260.10 L273.30,259.99 L273.50,259.90"/>
<path d="M195.30,186.30 L195.34,186.62 L195.39,187.01 L195.44,187.47 L195.51,187.98 L195.58,188.54 L195.66,189.13 L195.73,189.76 L195.80,190.40 L195.86,191.06 L195.92,191.71 L195.97,192.36 L196.00,193.00 L196.02,193.64 L196.05,194.31 L196.06,194.99 L196.08,195.70 L196.09,196.41 L196.09,197.13 L196.08,197.85 L196.07,198.57 L196.04,199.28 L196.01,199.97 L195.96,200.65 L195.90,201.30 L195.83,201.93 L195.74,202.56 L195.64,203.18 L195.54,203.79 L195.42,204.39 L195.29,204.99 L195.16,205.57 L195.02,206.14 L194.87,206.70 L194.72,207.25 L194.56,207.78 L194.40,208.30 L194.23,208.81 L194.06,209.30 L193.88,209.78 L193.69,210.24 L193.49,210.69 L193.29,211.14 L193.09,211.57 L192.88,211.99 L192.66,212.41 L192.45,212.81 L192.22,213.21 L192.00,213.60 L191.77,213.98 L191.54,214.36 L191.30,214.72 L191.06,215.08 L190.82,215.42 L190.57,215.76 L190.32,216.09 L190.06,216.41 L189.80,216.72 L189.54,217.02 L189.27,217.32 L189.00,217.60 L188.71,217.88 L188.41,218.16 L188.08,218.43 L187.74,218.70 L187.40,218.95 L187.06,219.20 L186.74,219.43 L186.43,219.65 L186.14,219.85 L185.89,220.02 L185.67,220.17 L185.50,220.30"/>
</g>

<!-- dimension lines -->
<g stroke="#333" stroke-width="1.1" fill="none">
<line x1="105" y1="186.2" x2="194" y2="186.2"/>
<line x1="102" y1="280.3" x2="164" y2="280.3"/>
<line x1="172" y1="280.3" x2="194" y2="280.3"/>
<line x1="109.6" y1="186" x2="109.6" y2="280"/>
<line x1="167" y1="236" x2="167" y2="401" stroke-width="1.2"/>
<line x1="513" y1="280" x2="513" y2="343.5" stroke-width="1.2"/>
<line x1="839.4" y1="260" x2="839.4" y2="401"/>
<line x1="167" y1="336.5" x2="513" y2="336.5"/>
<line x1="167" y1="394.6" x2="839.4" y2="394.6"/>
<line x1="910.5" y1="37" x2="910.5" y2="303"/>
<line x1="835.5" y1="203.9" x2="916" y2="203.9"/>
<line x1="845" y1="262.5" x2="916" y2="262.5"/>
</g>
<g fill="#1a1a1a">
<path d="M109.6,186 L115.6,209 L103.6,209 Z"/>
<path d="M109.6,280.3 L115.6,256.5 L103.6,256.5 Z"/>
<path d="M167.3,336.5 L190.5,331 L190.5,342 Z"/>
<path d="M512.8,336.5 L489.8,331 L489.8,342 Z"/>
<path d="M167.3,394.6 L190.5,389.1 L190.5,400.1 Z"/>
<path d="M839.2,394.6 L816.2,389.1 L816.2,400.1 Z"/>
<path d="M910.5,203.6 L916.5,181 L904.5,181 Z"/>
<path d="M910.5,262.8 L916.5,285.6 L904.5,285.6 Z"/>
</g>

<!-- texts -->
<text transform="translate(314,330.9) scale(0.98,1.045)" font-size="28">LCF</text>
<text transform="translate(475.8,389.0) scale(0.98,1.045)" font-size="28">OAL</text>
<text transform="translate(102.8,253.45) rotate(-90) scale(0.98,1.04)" font-size="28">DC</text>
<text transform="translate(903.7,174.3) rotate(-90) scale(0.979,1.037)" font-size="28">DCON MS</text>
</svg>
</body></html>
